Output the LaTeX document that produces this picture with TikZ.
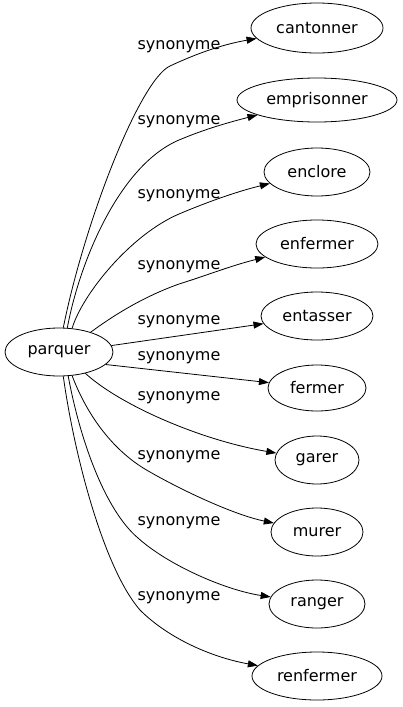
\documentclass[tikz,border=0pt]{standalone}
\usepackage{fontspec}
\setmainfont{DejaVu Sans}
\usetikzlibrary{shapes.geometric,arrows.meta}
\begin{document}
\begin{tikzpicture}[x=1pt,y=-1pt,
  ell/.style={draw,ellipse,inner sep=0pt,minimum height=48pt,line width=0.8pt,font=\fontsize{16}{19}\selectfont},
  lab/.style={inner sep=0pt,font=\fontsize{16}{19}\selectfont},
  edge/.style={line width=0.8pt,-{Triangle[length=10pt,width=7pt]}}]
\useasboundingbox (0,0) rectangle (402,707);
\node[ell,minimum width=108pt] (p) at (59,352) {parquer};
\node[ell,minimum width=132pt,minimum height=50pt] (e1) at (317,28) {cantonner};
\node[ell,minimum width=160pt,minimum height=44pt] (e2) at (317,100) {emprisonner};
\node[ell,minimum width=106pt] (e3) at (317,172) {enclore};
\node[ell,minimum width=122pt] (e4) at (317,244) {enfermer};
\node[ell,minimum width=112pt] (e5) at (317,316) {entasser};
\node[ell,minimum width=98pt,minimum height=46pt] (e6) at (317,388) {fermer};
\node[ell,minimum width=84pt] (e7) at (317,460) {garer};
\node[ell,minimum width=92pt] (e8) at (317,532) {murer};
\node[ell,minimum width=96pt] (e9) at (317,604) {ranger};
\node[ell,minimum width=130pt] (e10) at (317,676) {renfermer};
\node[lab] (l1) at (179,47) {synonyme};
\node[lab] (l2) at (179,122) {synonyme};
\node[lab] (l3) at (179,196) {synonyme};
\node[lab] (l4) at (179,267) {synonyme};
\node[lab] (l5) at (179,322) {synonyme};
\node[lab] (l6) at (179,358) {synonyme};
\node[lab] (l7) at (179,398) {synonyme};
\node[lab] (l8) at (179,457) {synonyme};
\node[lab] (l9) at (179,523) {synonyme};
\node[lab] (l10) at (179,598) {synonyme};
\draw[edge] (p.80) .. controls (85,220) and (140,80) .. (170,66) .. controls (200,52) and (225,44) .. (e1);
\draw[edge] (p.71) .. controls (80,260) and (120,165) .. (179,140) .. controls (205,129) and (230,122) .. (e2);
\draw[edge] (p.61) .. controls (82,295) and (130,235) .. (179,214) .. controls (205,203) and (235,192) .. (e3);
\draw[edge] (p.32) .. controls (110,318) and (140,298) .. (179,284) .. controls (205,276) and (230,266) .. (e4);
\draw[edge] (p.7) -- (e5);
\draw[edge] (p.-15) -- (e6);
\draw[edge] (p.-39) .. controls (120,405) and (200,440) .. (e7);
\draw[edge] (p.-61) .. controls (85,410) and (110,450) .. (150,472) .. controls (185,492) and (235,515) .. (e8);
\draw[edge] (p.-69) .. controls (80,440) and (105,510) .. (138,538) .. controls (168,565) and (225,590) .. (e9);
\draw[edge] (p.-80) .. controls (75,460) and (105,570) .. (140,610) .. controls (170,640) and (215,658) .. (e10);
\end{tikzpicture}
\end{document}
